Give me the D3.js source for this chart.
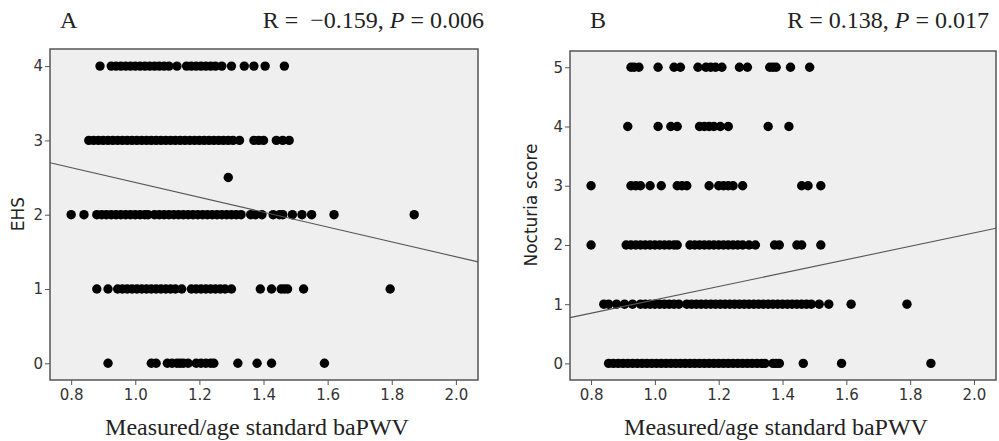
<!DOCTYPE html>
<html>
<head>
<meta charset="utf-8">
<script src="https://cdn.jsdelivr.net/npm/d3@7"></script>
<style>
  body { margin: 0; background: #fff; }
  svg { display: block; }
  .tick-label { font-family: "DejaVu Sans", sans-serif; font-size: 15px; fill: #333; }
  .axis-title { font-family: "Liberation Serif", "Times New Roman", serif; font-size: 24px; fill: #222; }
  .y-title { font-family: "DejaVu Sans", sans-serif; font-size: 17px; fill: #222; }
  .panel-title { font-family: "Liberation Serif", "Times New Roman", serif; font-size: 24px; fill: #222; }
</style>
</head>
<body>
<svg id="chart" width="999" height="441"></svg>
<script>
// x ticks shared by both panels
var xTicks = [0.8, 1.0, 1.2, 1.4, 1.6, 1.8, 2.0];

// Panel A: EHS by level (x values of dots on each row)
var ehsLevels = [0, 1, 2, 3, 4];
var ehs4 = [0.89, 0.925, 0.94, 0.955, 0.97, 0.985, 1.0, 1.015, 1.03, 1.045, 1.06, 1.075, 1.09, 1.105, 1.13,
            1.16, 1.175, 1.19, 1.205, 1.22, 1.235, 1.25, 1.27, 1.30, 1.34, 1.37, 1.405, 1.465];
var ehs3 = [0.855, 0.87, 0.885, 0.90, 0.915, 0.93, 0.945, 0.96, 0.975, 0.99, 1.005, 1.02, 1.035, 1.05, 1.065,
            1.08, 1.095, 1.11, 1.125, 1.14, 1.155, 1.17, 1.185, 1.20, 1.215, 1.23, 1.245, 1.26, 1.275, 1.29,
            1.305, 1.325, 1.37, 1.385, 1.40, 1.44, 1.46, 1.48];
var ehs25 = [1.29];
var ehs2 = [0.80, 0.84, 0.88, 0.895, 0.91, 0.925, 0.94, 0.955, 0.97, 0.985, 1.0, 1.015, 1.03, 1.04,
            1.06, 1.075, 1.09, 1.105, 1.12, 1.135, 1.15, 1.165, 1.18, 1.195, 1.21, 1.225, 1.24, 1.255,
            1.27, 1.285, 1.30, 1.315, 1.33, 1.36, 1.375, 1.395, 1.43, 1.45, 1.46, 1.49, 1.52, 1.55, 1.62, 1.87];
var ehs1 = [0.88, 0.915, 0.945, 0.96, 0.975, 0.99, 1.005, 1.02, 1.035, 1.05, 1.065, 1.08, 1.095, 1.11,
            1.125, 1.145, 1.175, 1.19, 1.205, 1.22, 1.235, 1.25, 1.265, 1.28, 1.30, 1.39, 1.425, 1.455,
            1.465, 1.475, 1.525, 1.795];
var ehs0 = [0.915, 1.05, 1.065, 1.10, 1.115, 1.13, 1.14, 1.15, 1.165, 1.19, 1.205, 1.22, 1.235, 1.245,
            1.32, 1.38, 1.425, 1.59];
var ehsFit = [3.434, -1.0]; // intercept, slope

// Panel B: Nocturia score by level
var nocLevels = [0, 1, 2, 3, 4, 5];
var noc5 = [0.925, 0.935, 0.95, 1.01, 1.06, 1.08, 1.135, 1.16, 1.175, 1.19, 1.21, 1.265, 1.29,
            1.36, 1.37, 1.38, 1.425, 1.485];
var noc4 = [0.915, 1.01, 1.05, 1.07, 1.14, 1.155, 1.17, 1.185, 1.205, 1.23, 1.355, 1.42];
var noc3 = [0.80, 0.925, 0.94, 0.955, 0.985, 1.02, 1.07, 1.085, 1.10, 1.17, 1.20, 1.215, 1.23, 1.245,
            1.275, 1.46, 1.48, 1.52];
var noc2 = [0.80, 0.91, 0.925, 0.94, 0.955, 0.97, 0.985, 1.0, 1.015, 1.03, 1.045, 1.06, 1.07,
            1.11, 1.125, 1.14, 1.155, 1.17, 1.185, 1.20, 1.215, 1.23, 1.245, 1.26, 1.275,
            1.295, 1.315, 1.375, 1.39, 1.445, 1.46, 1.52];
var noc1 = [0.84, 0.855, 0.88, 0.905, 0.93, 0.955, 0.97, 0.985, 1.0, 1.015, 1.03, 1.045, 1.06, 1.075,
            1.10, 1.115, 1.13, 1.145, 1.16, 1.175, 1.19, 1.205, 1.22, 1.235, 1.25, 1.265, 1.28, 1.295,
            1.31, 1.325, 1.34, 1.355, 1.37, 1.385, 1.40, 1.415, 1.43, 1.445, 1.46, 1.475, 1.49,
            1.515, 1.545, 1.615, 1.79];
var noc0 = [0.855, 0.87, 0.885, 0.90, 0.915, 0.93, 0.945, 0.96, 0.975, 0.99, 1.005, 1.02, 1.035, 1.05,
            1.065, 1.08, 1.095, 1.11, 1.125, 1.14, 1.155, 1.17, 1.185, 1.20, 1.215, 1.23, 1.245, 1.26,
            1.275, 1.29, 1.305, 1.32, 1.335, 1.345, 1.37, 1.38, 1.39, 1.465, 1.585, 1.865];
var nocFit = [-0.055, 1.129];

function rows(list) {
    // list of [yValue, xs] -> flat points
    var pts = [];
    list.forEach(function(r) {
        r[1].forEach(function(x) { pts.push({ x: x, y: r[0] }); });
    });
    return pts;
}

var svg = d3.select('#chart');

function drawPanel(o) {
    var x = d3.scaleLinear().domain([0.734, 2.069]).range([o.left, o.right]);
    var y = d3.scaleLinear().domain(o.yDomain).range([o.bottom, o.top]);
    var g = svg.append('g');

    // plot background
    g.append('rect')
        .attr('x', o.left).attr('y', o.top)
        .attr('width', o.right - o.left).attr('height', o.bottom - o.top)
        .attr('fill', '#efefef');

    // dots
    g.selectAll('circle')
        .data(o.points)
        .enter().append('circle')
        .attr('cx', function(d) { return x(d.x); })
        .attr('cy', function(d) { return y(d.y); })
        .attr('r', 4.7)
        .attr('fill', '#000');

    // fit line
    var x0 = x.domain()[0], x1 = x.domain()[1];
    g.append('line')
        .attr('x1', x(x0)).attr('y1', y(o.fit[0] + o.fit[1] * x0))
        .attr('x2', x(x1)).attr('y2', y(o.fit[0] + o.fit[1] * x1))
        .attr('stroke', '#555').attr('stroke-width', 1.1);

    // frame
    g.append('rect')
        .attr('x', o.left).attr('y', o.top)
        .attr('width', o.right - o.left).attr('height', o.bottom - o.top)
        .attr('fill', 'none').attr('stroke', '#555').attr('stroke-width', 1.5);

    // axes
    var xAxis = d3.axisBottom(x).tickValues(xTicks).tickSize(5).tickPadding(4)
        .tickFormat(d3.format('.1f'));
    var xg = g.append('g').attr('transform', 'translate(0,' + o.bottom + ')').call(xAxis);
    var yAxis = d3.axisLeft(y).tickValues(o.yTicks).tickSize(5).tickPadding(2)
        .tickFormat(d3.format('d'));
    var yg = g.append('g').attr('transform', 'translate(' + o.left + ',0)').call(yAxis);
    [xg, yg].forEach(function(a) {
        a.select('.domain').remove();
        a.selectAll('.tick line').attr('stroke', '#555');
        a.selectAll('.tick text').attr('class', 'tick-label').attr('fill', null);
        a.attr('font-family', null).attr('font-size', null);
    });

    // titles
    g.append('text').attr('class', 'axis-title')
        .attr('x', (o.left + o.right) / 2 - 7).attr('y', 435)
        .attr('text-anchor', 'middle')
        .text('Measured/age standard baPWV');

    g.append('text').attr('class', 'y-title')
        .attr('transform', 'translate(' + o.yTitleX + ',' + o.yTitleY + ') rotate(-90)')
        .attr('text-anchor', 'middle')
        .text(o.yTitle);

    g.append('text').attr('class', 'panel-title')
        .attr('x', o.letterX).attr('y', 28)
        .text(o.letter);

    var stat = g.append('text').attr('class', 'panel-title')
        .attr('x', o.statX).attr('y', 28).attr('text-anchor', 'end');
    stat.append('tspan').text(o.rText + ', ');
    stat.append('tspan').attr('font-style', 'italic').text('P');
    stat.append('tspan').text(' = ' + o.pText);
}

drawPanel({
    left: 50, right: 478, top: 49, bottom: 380,
    yDomain: [-0.225, 4.23], yTicks: ehsLevels,
    points: rows([[4, ehs4], [3, ehs3], [2.5, ehs25], [2, ehs2], [1, ehs1], [0, ehs0]]),
    fit: ehsFit,
    yTitle: 'EHS', yTitleX: 24, yTitleY: 214,
    letter: 'A', letterX: 60,
    rText: 'R =\u00a0 \u22120.159', pText: '0.006', statX: 484
});

drawPanel({
    left: 570, right: 996, top: 51, bottom: 380,
    yDomain: [-0.28, 5.275], yTicks: nocLevels,
    points: rows([[5, noc5], [4, noc4], [3, noc3], [2, noc2], [1, noc1], [0, noc0]]),
    fit: nocFit,
    yTitle: 'Nocturia score', yTitleX: 537, yTitleY: 205,
    letter: 'B', letterX: 590,
    rText: 'R = 0.138', pText: '0.017', statX: 989
});
</script>
</body>
</html>
